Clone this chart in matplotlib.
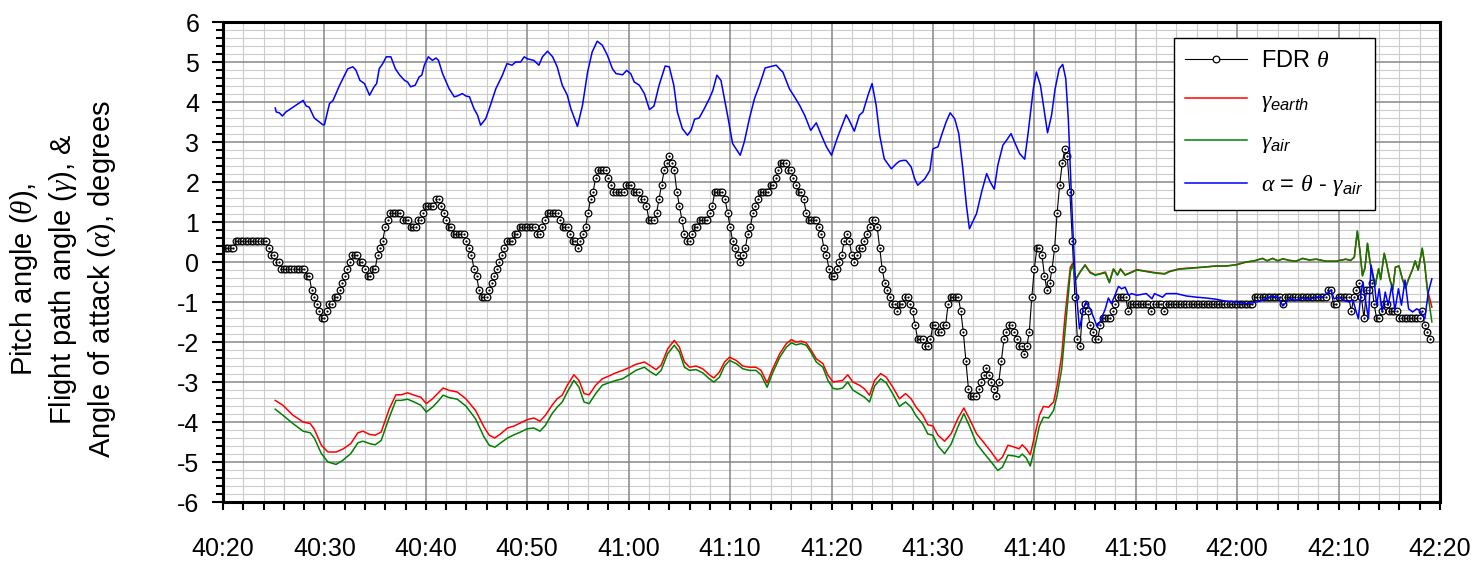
import numpy as np
import matplotlib
matplotlib.use("Agg")
import matplotlib.pyplot as plt
from matplotlib.ticker import MultipleLocator, FixedLocator, FixedFormatter

plt.rcParams['font.family'] = ['Liberation Sans', 'DejaVu Sans']
plt.rcParams['mathtext.fontset'] = 'custom'
plt.rcParams['mathtext.rm'] = 'Liberation Sans'
plt.rcParams['mathtext.it'] = 'Liberation Serif:italic'
plt.rcParams['mathtext.sf'] = 'Liberation Sans:italic'
plt.rcParams['axes.unicode_minus'] = False

# time axis: seconds after 40:20
xtick_pos = [0, 10, 20, 30, 40, 50, 60, 70, 80, 90, 100, 110, 120]
xtick_labels = ['40:20', '40:30', '40:40', '40:50', '41:00', '41:10', '41:20',
                '41:30', '41:40', '41:50', '42:00', '42:10', '42:20']
ytick_pos = [-6, -5, -4, -3, -2, -1, 0, 1, 2, 3, 4, 5, 6]

# FDR pitch: quantised steps (0.176 deg), 4 samples/s, level changes
theta_step = 0.176
theta_rate = 4
theta_end = 119.0
theta_change_t = [
    0.0, 1.15, 4.4, 4.65, 5.2, 5.7, 8.1, 8.55, 8.75, 8.95, 9.25, 9.5, 9.75, 10.25, 10.45,
    11.0, 11.35, 11.65, 11.9, 12.15, 12.4, 12.65, 13.35, 13.85, 14.15, 14.65, 15.1, 15.3,
    15.55, 15.8, 16.0, 16.2, 16.45, 17.75, 18.45, 19.2, 19.7, 19.95, 20.95, 21.45, 21.7,
    21.95, 22.2, 22.7, 23.8, 24.2, 24.4, 24.65, 24.9, 25.15, 25.3, 26.1, 26.4, 26.6, 26.85,
    27.1, 27.4, 27.65, 27.95, 28.55, 29.2, 30.85, 31.4, 31.6, 31.8, 33.2, 33.45, 34.2,
    34.45, 34.8, 35.1, 35.4, 35.65, 35.85, 36.05, 36.3, 36.6, 36.9, 37.85, 38.1, 38.4,
    39.6, 40.45, 41.2, 41.7, 41.95, 42.6, 42.85, 43.1, 43.4, 43.65, 43.9, 44.15, 44.4,
    44.65, 44.9, 45.15, 45.4, 45.65, 46.25, 46.5, 46.85, 47.8, 48.05, 48.3, 48.5, 49.3,
    49.6, 49.85, 50.1, 50.35, 50.6, 50.9, 51.15, 51.4, 51.65, 51.9, 52.15, 52.35, 52.55,
    52.8, 54.0, 54.3, 54.6, 54.85, 55.75, 56.05, 56.35, 56.7, 57.05, 57.35, 57.7, 58.75,
    58.9, 59.1, 59.4, 59.6, 59.85, 60.35, 60.6, 60.9, 61.2, 61.45, 61.6, 61.8, 62.1, 62.4,
    62.6, 63.1, 63.45, 63.7, 63.9, 64.45, 64.65, 64.9, 65.1, 65.35, 65.6, 65.85, 66.35,
    66.6, 67.05, 67.55, 67.85, 68.15, 68.4, 69.1, 69.6, 69.8, 70.35, 71.0, 71.35, 71.55,
    72.65, 72.95, 73.2, 73.4, 73.6, 74.4, 74.65, 74.9, 75.15, 75.4, 75.65, 75.9, 76.1,
    76.35, 76.6, 76.85, 77.1, 77.3, 77.95, 78.15, 78.4, 79.0, 79.2, 79.45, 79.7, 79.9,
    80.1, 80.7, 80.9, 81.15, 81.4, 81.65, 81.9, 82.15, 82.4, 82.65, 82.8, 82.95, 83.2,
    83.45, 83.65, 83.9, 84.15, 84.4, 84.65, 84.95, 85.2, 85.45, 85.65, 85.9, 86.4, 86.55,
    87.6, 87.95, 88.2, 89.1, 89.4, 91.5, 91.75, 92.75, 93.0, 101.6, 104.4, 104.65,
    108.95, 109.4, 109.9, 111.15, 111.45, 111.7, 111.85, 112.2, 112.4, 112.75, 113.1,
    113.3, 113.55, 114.1, 114.45, 114.8, 115.85, 118.1, 118.3, 118.6, 118.9]
theta_level = [
    2, 3, 2, 1, 0, -1, -2, -3, -4, -5, -6, -7, -8, -7, -6,
    -5, -4, -3, -2, -1, 0, 1, 0, -1, -2, -1, 1, 2,
    3, 4, 5, 6, 7, 6, 5, 6, 7, 8, 9, 8, 7,
    6, 5, 4, 3, 2, 1, -1, -2, -4, -5, -4, -3, -2, -1,
    0, 1, 2, 3, 4, 5, 4, 5, 6, 7, 6, 5, 4,
    3, 2, 3, 4, 5, 7, 9, 10, 12, 13, 12, 11, 10,
    11, 10, 9, 8, 6, 7, 9, 11, 13, 14, 15, 14, 13,
    10, 8, 6, 4, 3, 4, 5, 6, 7, 8, 9, 10, 9,
    7, 5, 3, 2, 1, 0, 1, 2, 4, 5, 7, 8, 9,
    10, 11, 12, 13, 14, 13, 12, 11, 10, 9, 7, 6, 5,
    4, 2, 1, -1, -2, -1, 0, 1, 3, 4, 3, 1, 0, 1,
    2, 3, 4, 5, 6, 5, 2, -1, -3, -4, -5, -6, -7,
    -6, -5, -6, -7, -9, -11, -12, -11, -9, -10, -9, -6, -5,
    -7, -10, -14, -18, -19, -18, -17, -16, -15, -16, -17, -18, -19,
    -17, -14, -11, -10, -9, -10, -11, -12, -13, -12, -10, -5, -1,
    2, 1, -2, -4, -3, -1, 2, 7, 11, 14, 15, 16, 15,
    10, 3, -5, -11, -12, -7, -6, -7, -9, -10, -11, -9, -8,
    -7, -6, -5, -7, -6, -7, -6, -7, -6, -5, -6, -5,
    -4, -6, -5, -7, -5, -4, -3, -5, -8, -4, -3,
    -6, -8, -7, -6, -7, -8, -7, -9, -10, -11]

# angle of attack (blue)
alpha_t = [5.15, 5.25, 5.55, 5.85, 6.2, 6.9, 7.9, 8.2, 8.5, 9.0, 9.85, 10.0, 10.5, 10.85,
           11.5, 12.3, 12.8, 13.1, 13.5, 13.95, 14.45, 14.9, 15.15, 15.4, 15.75, 16.1,
           16.55, 17.0, 17.4, 17.9, 18.2, 18.5, 18.95, 19.35, 19.6, 19.85, 20.25, 20.65,
           21.0, 21.25, 21.65, 22.3, 22.8, 23.1, 23.6, 23.95, 24.3, 24.75, 25.1, 25.4,
           25.9, 26.25, 26.9, 27.55, 28.0, 28.5, 28.85, 29.35, 29.7, 30.0, 30.65, 31.15,
           31.5, 32.0, 32.5, 32.95, 33.45, 33.95, 34.3, 34.95, 35.45, 35.95, 36.4, 36.9,
           37.4, 37.9, 38.4, 38.75, 39.4, 39.8, 40.2, 40.55, 41.05, 41.55, 42.05, 42.5,
           43.0, 43.6, 44.0, 44.45, 44.8, 45.3, 45.8, 46.15, 46.5, 46.95, 47.45, 47.95,
           48.3, 48.7, 49.1, 49.75, 50.25, 51.0, 51.4, 51.9, 52.4, 52.9, 53.45, 54.05,
           54.55, 54.9, 55.2, 55.85, 56.35, 56.85, 57.35, 57.95, 58.5, 59.0, 59.5, 60.0,
           60.6, 61.05, 61.45, 61.75, 62.25, 62.75, 63.1, 63.6, 64.0, 64.4, 64.75, 65.2,
           65.9, 66.4, 66.7, 67.05, 67.35, 67.85, 68.2, 68.5, 69.2, 69.7, 70.0, 70.5,
           70.8, 71.3, 71.7, 72.15, 72.55, 72.95, 73.3, 73.6, 74.3, 74.8, 75.3, 75.65,
           76.05, 76.4, 76.9, 77.25, 77.7, 78.05, 78.55, 79.05, 79.4, 79.9, 80.2, 80.6,
           80.95, 81.3, 81.7, 82.05, 82.45, 82.8, 83.1, 83.35, 83.55, 83.75, 84.0, 84.25,
           84.45, 84.65, 84.8, 85.1, 85.5, 85.9, 86.2, 86.55, 87.0, 87.3, 87.6, 87.95,
           88.3, 88.6, 88.95, 89.3, 89.6, 90.1, 91.05, 91.6, 91.85, 92.65, 93.0, 94.0,
           95.0, 96.0, 96.95, 97.9, 98.9, 99.9, 100.9, 101.55, 102.2, 102.85, 103.5,
           104.1, 104.5, 105.15, 105.8, 106.45, 107.1, 107.8, 108.4, 108.9, 109.25,
           109.55, 110.05, 110.55, 111.05, 111.4, 111.7, 111.95, 112.2, 112.4, 112.7,
           112.95, 113.2, 113.5, 113.75, 114.0, 114.3, 114.6, 114.9, 115.25, 115.55,
           115.9, 116.2, 116.55, 116.9, 117.3, 117.7, 118.0, 118.25, 118.5, 118.85, 119.2]
alpha_v = [3.85, 3.75, 3.73, 3.65, 3.75, 3.87, 4.04, 3.9, 3.87, 3.6, 3.43, 3.43, 3.96, 4.04,
           4.42, 4.83, 4.88, 4.8, 4.54, 4.46, 4.17, 4.38, 4.46, 4.83, 4.96, 5.13,
           5.13, 4.83, 4.68, 4.54, 4.5, 4.38, 4.42, 4.63, 4.67, 4.92, 5.13, 5.04,
           5.1, 5.04, 4.71, 4.33, 4.13, 4.15, 4.21, 4.15, 4.13, 3.83, 3.67, 3.42,
           3.58, 3.83, 4.33, 4.67, 4.96, 4.92, 5.0, 5.0, 5.13, 5.08, 5.04, 4.92,
           5.13, 5.27, 5.13, 4.88, 4.42, 4.17, 3.83, 3.39, 3.92, 4.75, 5.25, 5.52,
           5.42, 5.17, 4.83, 4.71, 4.68, 4.79, 4.71, 4.5, 4.42, 4.21, 3.81, 3.9,
           4.42, 4.9, 4.88, 4.42, 3.75, 3.33, 3.17, 3.29, 3.57, 3.6, 3.83, 4.08,
           4.29, 4.67, 4.54, 3.67, 2.96, 2.67, 3.0, 3.58, 4.08, 4.42, 4.85, 4.89,
           4.92, 4.82, 4.75, 4.33, 4.13, 3.92, 3.67, 3.29, 3.48, 3.17, 2.88, 2.67,
           3.12, 3.42, 3.68, 3.54, 3.27, 3.67, 3.75, 4.17, 4.46, 3.92, 3.17, 2.58,
           2.33, 2.46, 2.52, 2.54, 2.54, 2.38, 2.08, 1.92, 2.08, 2.29, 2.83, 2.88,
           3.13, 3.5, 3.73, 3.58, 3.21, 2.33, 1.42, 0.83, 1.21, 1.75, 2.21, 2.0,
           1.82, 2.42, 2.92, 3.04, 3.21, 3.0, 2.71, 2.57, 3.25, 4.33, 4.75, 4.42,
           3.83, 3.23, 3.67, 4.33, 4.83, 4.94, 4.58, 3.58, 2.33, 1.08, -0.25, -1.08,
           -1.67, -1.42, -1.17, -1.0, -1.17, -1.42, -1.62, -1.46, -1.17, -0.9, -1.04, -0.83,
           -0.61, -0.67, -0.63, -0.83, -0.79, -0.83, -0.79, -0.92, -0.79, -0.88, -0.79, -0.79,
           -0.85, -0.88, -0.9, -0.93, -0.98, -1.0, -1.04, -1.02, -0.98, -0.92, -0.85,
           -0.9, -1.1, -0.92, -0.96, -0.9, -0.93, -0.88, -0.88, -0.78, -0.7,
           -0.92, -0.88, -0.96, -1.0, -0.94, -1.21, -1.42, -0.79, -0.5, -1.04,
           -1.42, -0.08, -0.45, -1.08, -0.67, -1.25, -0.75, -1.08, -0.58, -1.21,
           -0.67, -1.08, -0.45, -1.17, -1.25, -1.17, -1.21, -1.33, -1.42, -0.75, -0.42]

# flight path angle, earth reference (red)
gearth_t = [5.15, 5.9, 6.9, 7.9, 8.6, 9.0, 9.7, 10.35, 11.15, 11.8, 12.6, 13.3, 13.8, 14.45,
            15.0, 15.6, 16.4, 17.05, 17.55, 18.2, 18.85, 19.5, 20.05, 20.65, 21.15, 21.7,
            22.3, 23.1, 23.95, 24.9, 25.75, 26.25, 26.8, 27.4, 28.05, 28.7, 29.35, 30.0,
            30.65, 31.25, 31.8, 32.45, 32.95, 33.45, 33.95, 34.6, 35.1, 35.6, 36.1, 36.75,
            37.4, 38.05, 38.75, 39.4, 40.05, 40.7, 41.55, 42.05, 42.7, 43.2, 43.85, 44.5,
            45.0, 45.5, 46.0, 46.65, 47.3, 47.95, 48.4, 48.95, 49.45, 49.95, 50.6, 51.25,
            51.9, 52.55, 53.05, 53.65, 54.2, 54.9, 55.55, 56.05, 56.5, 57.0, 57.5, 58.0,
            58.5, 59.15, 59.65, 60.15, 60.6, 61.1, 61.6, 62.1, 62.75, 63.25, 63.75, 64.25,
            64.85, 65.4, 66.05, 66.7, 67.3, 67.85, 68.35, 69.0, 69.5, 70.0, 70.5, 71.15,
            71.8, 72.45, 73.05, 73.6, 74.3, 75.1, 75.75, 76.4, 76.85, 77.4, 78.05, 78.5,
            78.8, 79.2, 79.6, 80.05, 80.5, 80.9, 81.4, 81.9, 82.25, 82.7, 83.0, 83.35,
            83.55, 83.75, 84.1, 84.5, 85.0, 85.5, 86.0, 86.5, 87.0, 87.4, 87.8, 88.2, 88.5,
            88.95, 89.6, 90.1, 91.05, 92.0, 92.85, 93.35, 94.3, 95.3, 96.6, 97.9, 98.9,
            99.9, 100.9, 101.7, 102.5, 102.95, 103.5, 104.0, 104.5, 105.15, 105.8, 106.45,
            107.1, 107.8, 108.75, 109.75, 110.7, 111.2, 111.55, 111.85, 112.1, 112.35,
            112.6, 112.85, 113.1, 113.35, 113.6, 113.95, 114.15, 114.5, 114.7, 115.05,
            115.35, 115.6, 115.95, 116.3, 116.6, 116.9, 117.3, 117.55, 117.85, 118.25,
            118.5, 118.75, 119.2]
gearth_v = [-3.46, -3.58, -3.83, -4.0, -4.04, -4.18, -4.58, -4.75, -4.75, -4.68, -4.54, -4.27,
            -4.23, -4.31, -4.33, -4.25, -3.67, -3.32, -3.32, -3.27, -3.33, -3.38, -3.54,
            -3.42, -3.29, -3.15, -3.21, -3.25, -3.42, -3.71, -4.13, -4.33, -4.4, -4.29,
            -4.15, -4.1, -4.02, -3.94, -3.9, -3.98, -3.83, -3.58, -3.42, -3.33, -3.08,
            -2.82, -2.96, -3.29, -3.32, -3.08, -2.92, -2.85, -2.77, -2.71, -2.64, -2.56,
            -2.5, -2.58, -2.69, -2.58, -2.17, -1.96, -2.13, -2.5, -2.63, -2.6, -2.67,
            -2.82, -2.9, -2.75, -2.5, -2.38, -2.46, -2.6, -2.63, -2.63, -2.71, -3.02,
            -2.67, -2.29, -2.04, -1.94, -2.0, -1.98, -2.02, -2.21, -2.42, -2.54, -2.83,
            -3.0, -2.98, -2.96, -2.82, -3.0, -3.08, -3.17, -3.33, -2.96, -2.79, -2.88,
            -3.13, -3.42, -3.29, -3.42, -3.63, -3.83, -4.07, -4.1, -4.33, -4.48, -4.29,
            -3.92, -3.65, -3.92, -4.29, -4.54, -4.75, -4.98, -4.88, -4.58, -4.63, -4.67,
            -4.57, -4.67, -4.82, -4.33, -3.83, -3.61, -3.63, -3.5, -3.08, -2.33, -1.42,
            -0.58, -0.13, -0.04, -0.42, -0.25, -0.07, -0.25, -0.32, -0.29, -0.25, -0.5,
            -0.17, -0.32, -0.17, -0.32, -0.25, -0.19, -0.23, -0.27, -0.29, -0.23, -0.17,
            -0.15, -0.13, -0.1, -0.1, -0.07, 0.0, 0.03, 0.09, 0.03, 0.09, 0.03, 0.08,
            0.04, 0.02, 0.09, 0.05, 0.07, 0.02, 0.02, 0.07, 0.04, 0.12, 0.76, 0.29,
            -0.33, -0.15, 0.46, 0.0, -0.33, -0.58, -0.17, -0.42, 0.21, 0.0, -0.42, -0.67,
            -0.13, -0.1, -0.42, -0.63, -0.42, -0.18, 0.02, -0.2, 0.33, -0.08, -0.67, -1.13]

# flight path angle, air mass reference (green)
gair_t = gearth_t
gair_v = [-3.68, -3.83, -4.04, -4.23, -4.27, -4.4, -4.79, -5.0, -5.06, -4.96, -4.79, -4.52,
          -4.48, -4.54, -4.57, -4.46, -3.88, -3.46, -3.46, -3.43, -3.5, -3.58, -3.75,
          -3.63, -3.5, -3.33, -3.39, -3.43, -3.6, -3.92, -4.38, -4.58, -4.63, -4.52,
          -4.4, -4.32, -4.25, -4.17, -4.15, -4.23, -4.08, -3.79, -3.63, -3.5, -3.25,
          -2.96, -3.13, -3.5, -3.54, -3.29, -3.08, -3.02, -2.96, -2.92, -2.82, -2.71,
          -2.63, -2.73, -2.83, -2.71, -2.29, -2.08, -2.25, -2.63, -2.71, -2.69, -2.77,
          -2.92, -3.0, -2.88, -2.6, -2.46, -2.54, -2.67, -2.71, -2.71, -2.82, -3.13,
          -2.77, -2.38, -2.13, -2.02, -2.07, -2.04, -2.08, -2.27, -2.5, -2.63, -2.96,
          -3.16, -3.18, -3.15, -3.0, -3.2, -3.3, -3.38, -3.5, -3.1, -2.92, -3.02,
          -3.3, -3.61, -3.5, -3.63, -3.85, -4.05, -4.3, -4.33, -4.6, -4.79, -4.55,
          -4.13, -3.79, -4.1, -4.54, -4.8, -5.0, -5.21, -5.13, -4.83, -4.85, -4.88,
          -4.8, -4.9, -5.1, -4.63, -4.1, -3.88, -3.9, -3.71, -3.33, -2.67, -1.83,
          -0.83, -0.25, -0.07, -0.44, -0.26, -0.08, -0.27, -0.33, -0.3, -0.27, -0.52,
          -0.18, -0.33, -0.18, -0.33, -0.26, -0.2, -0.24, -0.28, -0.3, -0.24, -0.18,
          -0.16, -0.13, -0.1, -0.1, -0.07, 0.0, 0.03, 0.09, 0.03, 0.09, 0.03, 0.08,
          0.04, 0.02, 0.09, 0.05, 0.07, 0.02, 0.02, 0.07, 0.04, 0.12, 0.78, 0.29,
          -0.35, -0.15, 0.47, 0.0, -0.35, -0.6, -0.17, -0.44, 0.22, 0.0, -0.44, -0.7,
          -0.13, -0.1, -0.44, -0.66, -0.44, -0.18, 0.03, -0.2, 0.35, -0.08, -0.7, -1.5]

# ---- theta samples from the level changes
theta_t = np.arange(0, theta_end + 0.01, 1.0 / theta_rate)
idx = np.searchsorted(theta_change_t, theta_t, side='right') - 1
theta_v = np.array(theta_level)[idx] * theta_step

fig = plt.figure(figsize=(14.78, 5.67), dpi=100)
ax = fig.add_axes([223 / 1478, 1 - 502 / 567, 1217 / 1478, 480 / 567])

ax.plot(theta_t, theta_v, color='black', lw=0.8, marker='o', ms=4.8, mfc='white',
        mec='black', mew=0.9, label=r'FDR $\theta$', zorder=3)
ax.plot(theta_t, theta_v, ls='none', marker='.', ms=1.3, color='black', zorder=3.1)
ax.plot(gearth_t, gearth_v, color='#ff0000', lw=1.1, label=r'$\gamma_{\mathsf{earth}}$', zorder=4)
ax.plot(gair_t, gair_v, color='#008000', lw=1.1, label=r'$\gamma_{\mathsf{air}}$', zorder=5)
ax.plot(alpha_t, alpha_v, color='#0000ff', lw=1.1,
        label=r'$\alpha$ = $\theta$ - $\gamma_{\mathsf{air}}$', zorder=6)

ax.set_xlim(0, 120)
ax.set_ylim(-6, 6)
ax.xaxis.set_major_locator(FixedLocator(xtick_pos))
ax.xaxis.set_major_formatter(FixedFormatter(xtick_labels))
ax.xaxis.set_minor_locator(MultipleLocator(2))
ax.yaxis.set_major_locator(FixedLocator(ytick_pos))
ax.yaxis.set_minor_locator(MultipleLocator(0.2))

# light minor grid, darker major lines drawn on top of it
ax.grid(which='minor', color='#cbcbcb', lw=0.8)
ax.set_axisbelow(True)
for xp in xtick_pos:
    ax.axvline(xp, color='#868686', lw=1.1, zorder=1)
for yp in ytick_pos:
    ax.axhline(yp, color='#868686', lw=1.1, zorder=1)

for s in ax.spines.values():
    s.set_linewidth(2.2)
    s.set_zorder(10)
ax.tick_params(axis='both', which='both', direction='out', width=1.5, labelsize=18)
ax.tick_params(axis='x', which='both', length=6, pad=19)
ax.tick_params(axis='y', which='major', length=8, pad=9)
ax.tick_params(axis='y', which='minor', length=5)

fig.text(63 / 1478, 1 - 279 / 567,
         'Pitch angle ($\\theta$),\nFlight path angle ($\\gamma$), &\nAngle of attack ($\\alpha$), degrees',
         rotation=90, ha='center', va='center', multialignment='center',
         fontsize=21, linespacing=1.3)

leg = ax.legend(loc='upper right', bbox_to_anchor=((1375 - 223) / 1217, (502 - 38) / 480),
                borderaxespad=0, fontsize=17, frameon=True, fancybox=False,
                edgecolor='black', framealpha=1, numpoints=1, handlelength=2.6,
                labelspacing=0.75, borderpad=0.5, handletextpad=0.6)
leg.get_frame().set_linewidth(1.0)
leg.set_zorder(20)

fig.savefig('out.png', dpi=100)
